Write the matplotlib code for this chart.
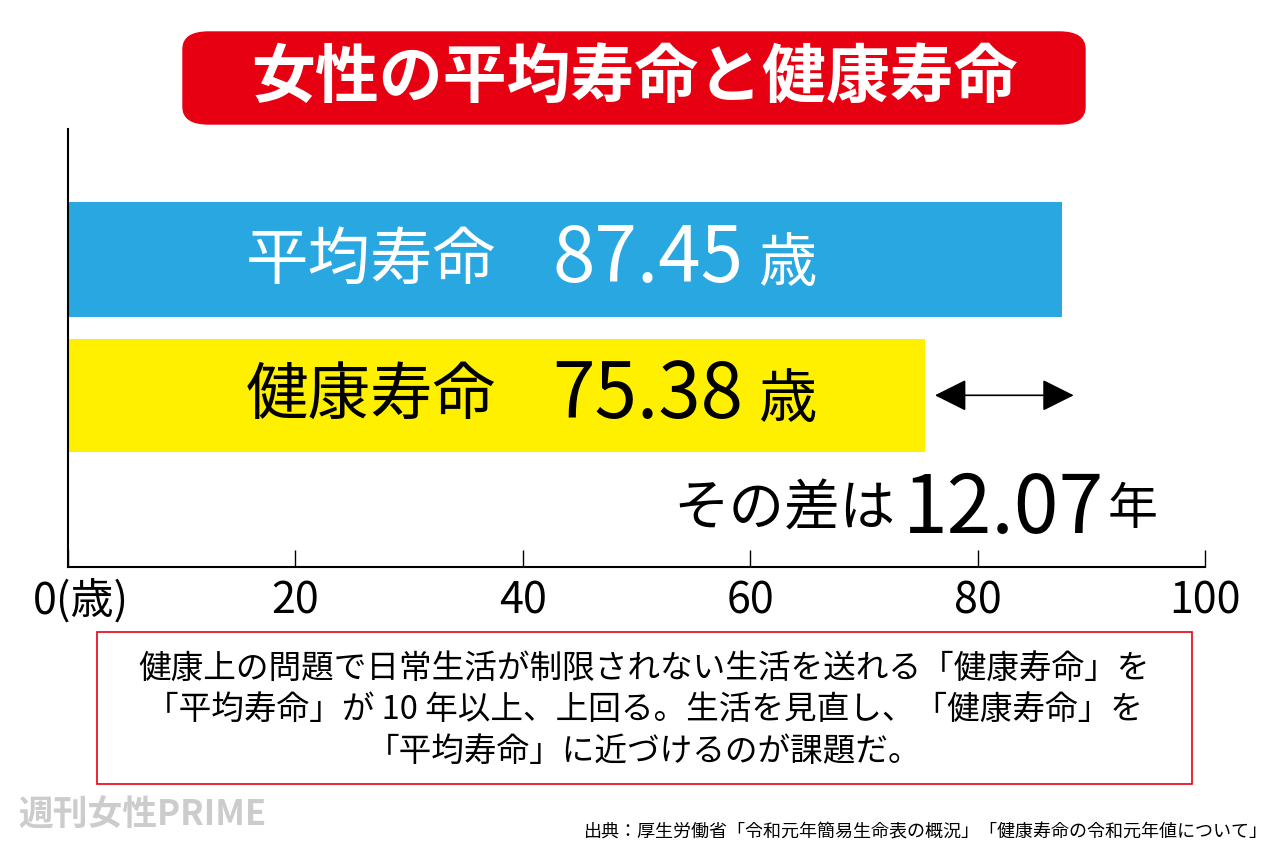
import matplotlib.pyplot as plt
from matplotlib.patches import FancyBboxPatch, Rectangle

plt.rcParams['font.family'] = ['Noto Sans CJK JP', 'DejaVu Sans']

labels = ["平均寿命", "健康寿命"]
values = [87.45, 75.38]
colors = ["#29a7e1", "#fff000"]
text_colors = ["white", "black"]
ypos = [0.702, 0.392]
heights = [0.263, 0.258]
xticks = [0, 20, 40, 60, 80, 100]
diff = 12.07

fig = plt.figure(figsize=(12.8, 8.54), dpi=100)
ax = fig.add_axes([68/1280, 1-568/854, 1137/1280, 438/854])
ax.barh(ypos, values, height=heights, color=colors)
ax.set_xlim(0, 100)
ax.set_ylim(0, 1)
for s in ["top", "right"]:
    ax.spines[s].set_visible(False)
ax.spines["left"].set_linewidth(1.5)
ax.spines["bottom"].set_linewidth(1.5)
ax.set_yticks([])
ax.set_xticks(xticks)
ax.set_xticklabels([""] + [str(t) for t in xticks[1:]], fontsize=31)
ax.tick_params(axis="x", direction="in", length=12, width=1, pad=8)
fig.text(33/1280, 1-601/854, "0(歳)", fontsize=31, ha="left", va="center")

# bar labels
for lab, v, y, tc in zip(labels, values, ypos, text_colors):
    ax.text(26.6, y, lab, fontsize=45, color=tc, ha="center", va="center")
    ax.text(51.0, y, f"{v:.2f}", fontsize=55, color=tc, ha="center", va="center")
    ax.text(63.3, y - 0.01, "歳", fontsize=42, color=tc, ha="center", va="center")

# arrow for difference
ax.annotate("", xy=(88.7, 0.392), xytext=(76.0, 0.392),
            arrowprops=dict(arrowstyle="<|-|>", color="black", lw=1.2,
                            mutation_scale=50))
ax.text(72.8, 0.132, "その差は", fontsize=40, ha="right", va="center")
ax.text(73.4, 0.132, f"{diff:.2f}", fontsize=58, ha="left", va="center")
ax.text(93.6, 0.132, "年", fontsize=36, ha="center", va="center")

# title
fig.patches.append(FancyBboxPatch((183/1280, 1-125/854), 902/1280, 92/854,
                                  boxstyle="round,pad=0,rounding_size=0.02",
                                  transform=fig.transFigure, color="#e60012"))
fig.text(634/1280, 1-78/854, "女性の平均寿命と健康寿命", fontsize=46, weight="bold",
         color="white", ha="center", va="center")

# note box
fig.patches.append(Rectangle((97/1280, 1-785/854), 1095/1280, 152/854,
                             transform=fig.transFigure, fill=False,
                             edgecolor="#e60012", lw=1.2))
note = ("健康上の問題で日常生活が制限されない生活を送れる「健康寿命」を\n"
        "「平均寿命」が 10 年以上、上回る。生活を見直し、「健康寿命」を\n"
        "「平均寿命」に近づけるのが課題だ。")
fig.text(644/1280, 1-710/854, note, fontsize=23.5, ha="center", va="center",
         linespacing=1.38)

# watermark and source
fig.text(18/1280, 1-815/854, "週刊女性PRIME", fontsize=25, weight="bold",
         color="#cccccc", ha="left", va="center")
fig.text(1268/1280, 1-833/854,
         "出典：厚生労働省「令和元年簡易生命表の概況」「健康寿命の令和元年値について」",
         fontsize=13, ha="right", va="center")

fig.savefig("out.png", dpi=100)
